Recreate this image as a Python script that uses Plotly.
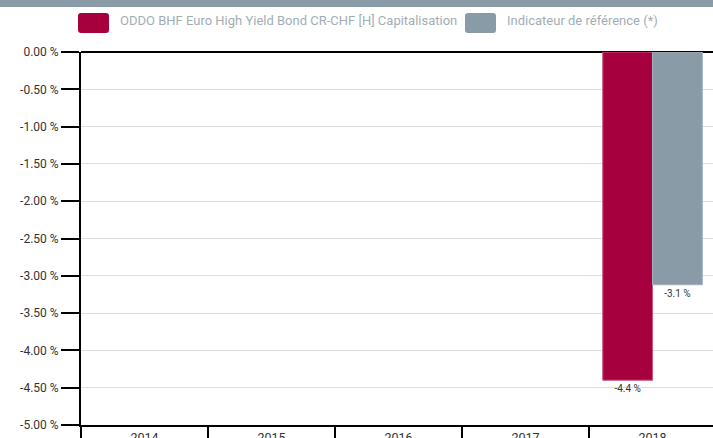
import plotly.graph_objects as go

categories = ["2014", "2015", "2016", "2017", "2018"]
fund_values = [None, None, None, None, -4.4]
index_values = [None, None, None, None, -3.12]
fund_name = "ODDO BHF Euro High Yield Bond CR-CHF [H] Capitalisation"
index_name = "Indicateur de référence (*)"
y_tickvals = [0, -0.5, -1, -1.5, -2, -2.5, -3, -3.5, -4, -4.5, -5]
y_ticktext = ["0.00 %", "-0.50 %", "-1.00 %", "-1.50 %", "-2.00 %", "-2.50 %",
              "-3.00 %", "-3.50 %", "-4.00 %", "-4.50 %", "-5.00 %"]

FONT = "Roboto, sans-serif"
RED = "#a6003e"
GRAY = "#8a9ba8"

def labels(vals):
    return [("" if v is None else f"{v:.1f} %") for v in vals]

fig = go.Figure()
fig.add_trace(go.Bar(x=categories, y=fund_values, name=fund_name,
                     marker=dict(color=RED, line=dict(color="#c8577f", width=1)),
                     text=labels(fund_values), textposition="outside",
                     textfont=dict(size=10, color="#333333", family=FONT),
                     cliponaxis=False))
fig.add_trace(go.Bar(x=categories, y=index_values, name=index_name,
                     marker=dict(color=GRAY, line=dict(color="#a3b1bc", width=1)),
                     text=labels(index_values), textposition="outside",
                     textfont=dict(size=10, color="#333333", family=FONT),
                     cliponaxis=False))

H = 373.0
W = 632.0
def py(p):
    return (425 - p) / H
def px(p):
    return (p - 81) / W

def rounded(x0, y0, x1, y1, r=3):
    X0, X1 = px(x0), px(x1)
    Y0, Y1 = py(y0), py(y1)
    rx, ry = r / W, r / H
    return (f"M{X0+rx},{Y0} L{X1-rx},{Y0} Q{X1},{Y0} {X1},{Y0-ry} "
            f"L{X1},{Y1+ry} Q{X1},{Y1} {X1-rx},{Y1} L{X0+rx},{Y1} "
            f"Q{X0},{Y1} {X0},{Y1+ry} L{X0},{Y0-ry} Q{X0},{Y0} {X0+rx},{Y0} Z")

shapes = [
    dict(type="rect", xref="paper", yref="paper", x0=-0.2, x1=1.1, y0=py(7), y1=py(-20),
         fillcolor=GRAY, line=dict(width=0), layer="above"),
    dict(type="path", xref="paper", yref="paper", path=rounded(78, 13, 109, 33),
         fillcolor=RED, line=dict(width=0)),
    dict(type="path", xref="paper", yref="paper", path=rounded(465, 13, 496, 33),
         fillcolor=GRAY, line=dict(width=0)),
]
annotations = [
    dict(xref="paper", yref="paper", x=px(118), y=py(21), xanchor="left", yanchor="middle",
         text=fund_name, showarrow=False, font=dict(size=13, color="#a3adb6", family=FONT)),
    dict(xref="paper", yref="paper", x=px(505), y=py(21), xanchor="left", yanchor="middle",
         text=index_name, showarrow=False, font=dict(size=13, color="#a3adb6", family=FONT)),
]

fig.update_layout(
    width=713, height=438,
    margin=dict(l=81, r=0, t=52, b=13, autoexpand=False),
    paper_bgcolor="white", plot_bgcolor="white",
    showlegend=False,
    barmode="group", bargap=0.216, bargroupgap=0,
    font=dict(family=FONT, size=12, color="#333333"),
    shapes=shapes, annotations=annotations,
    xaxis=dict(range=[-0.5, 4.476], showline=True, linecolor="black", linewidth=2,
               ticks="outside", tickson="boundaries", ticklen=14, tickwidth=2,
               tickcolor="black", showgrid=False, tickfont=dict(size=12.5, color="#333333"),
               fixedrange=True, automargin=False),
    yaxis=dict(range=[-5, 0], tickvals=y_tickvals, ticktext=y_ticktext,
               showline=True, linecolor="black", linewidth=2,
               ticks="outside", ticklen=18, tickwidth=2, tickcolor="black",
               showgrid=True, gridcolor="#dddddd", gridwidth=1,
               zeroline=True, zerolinecolor="black", zerolinewidth=2,
               tickfont=dict(size=12, color="#333333"), fixedrange=True,
               automargin=False),
)

fig.write_html("out.html", config={"displayModeBar": False},
               post_script="document.body.style.margin='0';document.body.style.overflow='hidden';")
